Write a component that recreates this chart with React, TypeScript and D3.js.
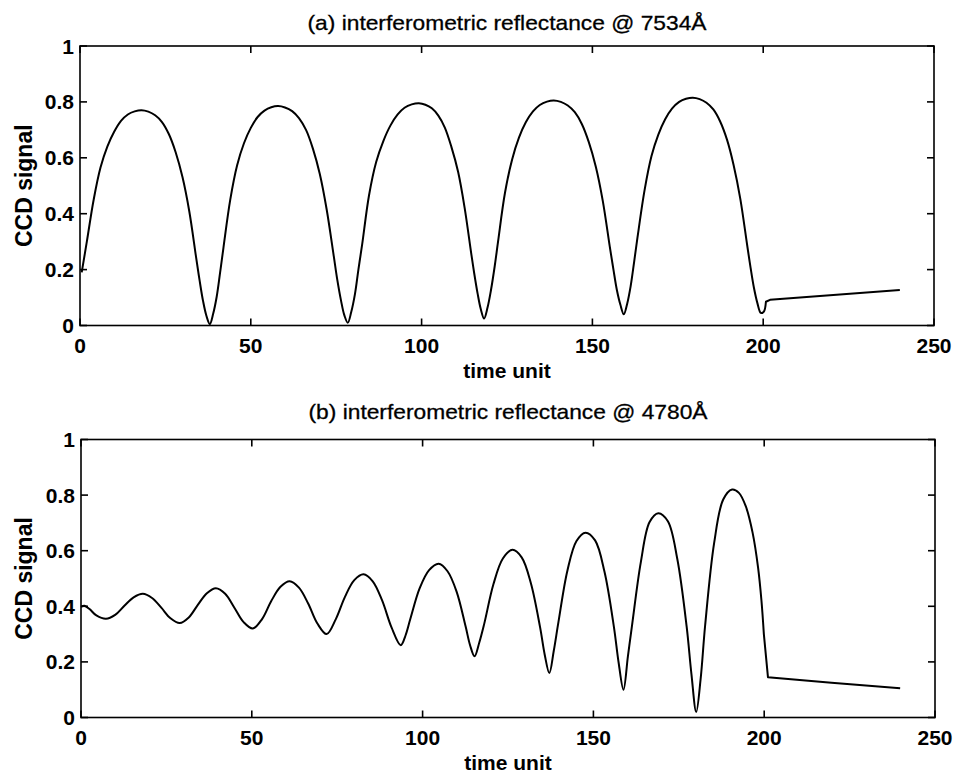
import React from 'react';
import * as d3 from 'd3';

// values: [time unit, CCD signal]
const seriesA: [number, number][] = [
  [0.5, 0.19], [2, 0.3], [4, 0.45], [6, 0.565], [8, 0.64], [10, 0.693], [12, 0.732], [14, 0.755],
  [16, 0.766], [18, 0.77],
  [20, 0.765], [22, 0.752], [24, 0.728], [26, 0.685], [28, 0.62], [30, 0.531], [32, 0.408], [34, 0.243],
  [35, 0.162], [36, 0.089], [37, 0.035], [38, 0.005],
  [39, 0.043], [40, 0.102], [41, 0.188], [42, 0.279], [44, 0.451], [46, 0.573], [48, 0.652], [50, 0.707],
  [52, 0.746], [54, 0.769], [56, 0.781], [58, 0.785],
  [60, 0.78], [62.1, 0.767], [64.1, 0.742], [66.2, 0.699], [68.2, 0.632], [70.2, 0.542], [72.2, 0.416],
  [74.3, 0.247], [75.3, 0.165], [76.4, 0.09], [77.4, 0.036], [78.4, 0.01],
  [79.4, 0.048], [80.5, 0.113], [81.5, 0.2], [82.6, 0.29], [84.6, 0.465], [86.7, 0.585], [88.8, 0.66],
  [90.9, 0.716], [93, 0.755], [95, 0.779], [97.1, 0.791], [99.2, 0.795],
  [101.1, 0.79], [103, 0.777], [104.9, 0.751], [106.8, 0.708], [108.7, 0.64], [110.7, 0.549], [112.6, 0.421],
  [114.5, 0.26], [115.4, 0.187], [116.4, 0.114], [117.3, 0.06], [118.3, 0.025],
  [119.3, 0.064], [120.3, 0.126], [121.4, 0.212], [122.4, 0.302], [124.4, 0.474], [126.5, 0.594],
  [128.5, 0.672], [130.5, 0.727], [132.6, 0.766], [134.6, 0.789], [136.7, 0.801], [138.7, 0.805],
  [140.75, 0.8], [142.8, 0.787], [144.85, 0.763], [146.9, 0.721], [148.95, 0.656], [151, 0.568],
  [153.05, 0.445], [155.1, 0.281], [156.15, 0.201], [157.15, 0.128], [158.2, 0.074], [159.2, 0.04],
  [160.2, 0.079], [161.2, 0.141], [162.2, 0.226], [163.2, 0.315], [165.3, 0.486], [167.3, 0.606],
  [169.3, 0.683], [171.3, 0.738], [173.3, 0.776], [175.4, 0.8], [177.4, 0.811], [179.4, 0.815],
  [181.4, 0.81], [183.4, 0.797], [185.4, 0.773], [187.4, 0.73], [189.4, 0.665], [191.3, 0.576],
  [193.3, 0.453], [195.3, 0.288], [196.3, 0.207], [197.3, 0.134], [198.3, 0.08], [199.3, 0.045],
  [200.2, 0.05], [200.8, 0.085], [202, 0.092], [240, 0.127],
];

const seriesB: [number, number][] = [
  [0, 0.398], [1, 0.402], [2.5, 0.39], [4.5, 0.367], [7.3, 0.355],
  [10, 0.369], [12.7, 0.402], [15.4, 0.432], [18.1, 0.445],
  [20.8, 0.43], [23.5, 0.395], [26.2, 0.357], [28.9, 0.34],
  [31.55, 0.36], [34.2, 0.405], [36.85, 0.447], [39.5, 0.465],
  [42.2, 0.445], [44.9, 0.395], [47.6, 0.343], [50.3, 0.32],
  [53, 0.354], [55.7, 0.419], [58.4, 0.47], [61.1, 0.49],
  [63.8, 0.467], [66.5, 0.41], [69.2, 0.338], [71.9, 0.3],
  [74.6, 0.354], [77.3, 0.435], [80, 0.494], [82.7, 0.515],
  [85.4, 0.49], [88.15, 0.421], [90.9, 0.324], [93.6, 0.26],
  [95, 0.295], [96.4, 0.354], [99.15, 0.465], [101.9, 0.53], [104.7, 0.553],
  [107.3, 0.526], [109.95, 0.453], [112.6, 0.327], [113.9, 0.26], [115.2, 0.22],
  [116.6, 0.27], [118, 0.335], [120.75, 0.48], [123.5, 0.572], [126.3, 0.603],
  [129, 0.576], [131.7, 0.483], [134.4, 0.324], [135.75, 0.226], [137.1, 0.16],
  [138.4, 0.24], [139.75, 0.342], [142.4, 0.529], [145.05, 0.635], [147.7, 0.665],
  [150.5, 0.637], [153.25, 0.524], [156, 0.326], [157.4, 0.196], [158.8, 0.1],
  [160.1, 0.22], [161.35, 0.335], [163.9, 0.56], [166.45, 0.703], [169, 0.735],
  [171.8, 0.706], [174.55, 0.571], [177.3, 0.327], [178.7, 0.156], [180.1, 0.02],
  [181.4, 0.14], [182.7, 0.33], [185.35, 0.628], [188, 0.784], [190.6, 0.82],
  [192.6, 0.808], [194.6, 0.76], [196.6, 0.665], [198.2, 0.54], [199.2, 0.42], [199.9, 0.3],
  [201.1, 0.145], [219.7, 0.125], [239.8, 0.105],
];

const xTicks = [0, 50, 100, 150, 200, 250];
const yTicks = [0, 0.2, 0.4, 0.6, 0.8, 1];
const titleA = '(a) interferometric reflectance @ 7534Å';
const titleB = '(b) interferometric reflectance @ 4780Å';
const xLabel = 'time unit';
const yLabel = 'CCD signal';

const FONT = '"Liberation Sans", Arial, Helvetica, sans-serif';

type PanelProps = {
  title: string;
  data: [number, number][];
  tailFrom: number; // straight segments after this time
  left: number;
  right: number;
  top: number;
  bottom: number;
  titleY: number;
  xLabelY: number;
};

function Panel({ title, data, tailFrom, left, right, top, bottom, titleY, xLabelY }: PanelProps) {
  const x = d3.scaleLinear().domain([0, 250]).range([left, right]);
  const y = d3.scaleLinear().domain([0, 1]).range([bottom, top]);
  const smooth = d3.line<[number, number]>()
    .x(d => x(d[0]))
    .y(d => y(d[1]))
    .curve(d3.curveCatmullRom.alpha(0.5));
  const straight = d3.line<[number, number]>()
    .x(d => x(d[0]))
    .y(d => y(d[1]));
  const head = data.filter(d => d[0] <= tailFrom);
  const tail = data.filter(d => d[0] >= tailFrom);
  const tick = 7;
  const midX = (left + right) / 2;
  const midY = (top + bottom) / 2;

  return (
    <g>
      <text x={midX} y={titleY} textAnchor="middle" fontSize={21} fontFamily={FONT}
        textLength={399} lengthAdjust="spacingAndGlyphs" stroke="#000" strokeWidth={0.3}>{title}</text>

      <path d={(smooth(head) || '') + (straight(tail) || '').replace(/^M/, 'L')} fill="none"
        stroke="#000" strokeWidth={2} strokeLinejoin="round" />

      <rect x={left} y={top} width={right - left} height={bottom - top}
        fill="none" stroke="#000" strokeWidth={1.6} />

      {xTicks.map(t => (
        <g key={'x' + t}>
          <line x1={x(t)} x2={x(t)} y1={bottom} y2={bottom - tick} stroke="#000" strokeWidth={1.6} />
          <line x1={x(t)} x2={x(t)} y1={top} y2={top + tick} stroke="#000" strokeWidth={1.6} />
          <text x={x(t)} y={bottom + 27} textAnchor="middle" fontSize={21} fontWeight="bold"
            fontFamily={FONT}>{t}</text>
        </g>
      ))}

      {yTicks.map(v => (
        <g key={'y' + v}>
          <line x1={left} x2={left + tick} y1={y(v)} y2={y(v)} stroke="#000" strokeWidth={1.6} />
          <line x1={right} x2={right - tick} y1={y(v)} y2={y(v)} stroke="#000" strokeWidth={1.6} />
          <text x={left - 6} y={y(v)} dy="0.36em" textAnchor="end" fontSize={21} fontWeight="bold"
            fontFamily={FONT}>{v}</text>
        </g>
      ))}

      <text x={midX} y={xLabelY} textAnchor="middle" fontSize={21} fontWeight="bold"
        fontFamily={FONT}>{xLabel}</text>
      <text transform={`translate(32,${midY}) rotate(-90)`} textAnchor="middle" fontSize={23}
        fontWeight="bold" fontFamily={FONT}>{yLabel}</text>
    </g>
  );
}

export default function App() {
  return (
    <svg width={956} height={774} style={{ position: 'absolute', left: 0, top: 0, background: '#fff' }}>
      <rect width={956} height={774} fill="#fff" />
      <Panel title={titleA} data={seriesA} tailFrom={200.8} left={80} right={934} top={46} bottom={325.5}
        titleY={30} xLabelY={378} />
      <Panel title={titleB} data={seriesB} tailFrom={199.9} left={81} right={935} top={439.5} bottom={717.5}
        titleY={419} xLabelY={770} />
    </svg>
  );
}
